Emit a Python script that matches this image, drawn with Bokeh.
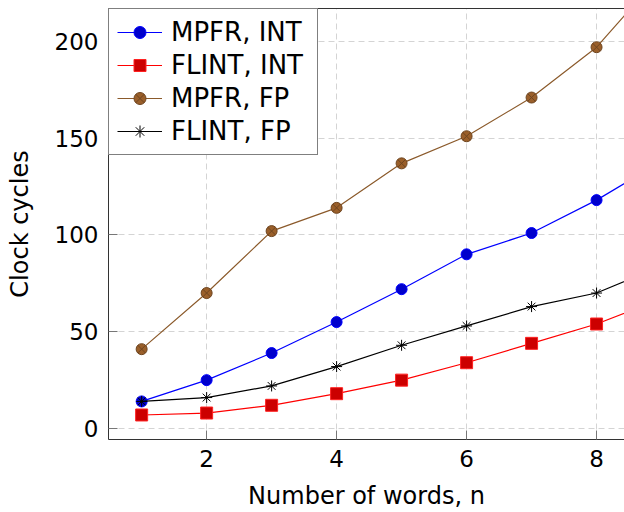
from bokeh.plotting import figure
from bokeh.models import Legend, LegendItem, LinearAxis, FixedTicker, Range1d
from bokeh.embed import file_html
from bokeh.resources import INLINE

words = [1, 2, 3, 4, 5, 6, 7, 8, 9]
mpfr_int = [14, 25, 39, 55, 72, 90, 101, 118, 138]
flint_int = [7, 8, 12, 18, 25, 34, 44, 54, 67]
mpfr_fp = [41, 70, 102, 114, 137, 151, 171, 197, 235]
flint_fp = [14, 16, 22, 32, 43, 53, 63, 70, 84]
x_ticks = [2, 4, 6, 8]
y_ticks = [0, 50, 100, 150, 200]

FONT = "DejaVu Sans"

p = figure(width=624, height=512, output_backend="svg", toolbar_location=None,
           x_range=Range1d(0.49, 8.43), y_range=Range1d(-5.67, 217),
           min_border_left=108, min_border_right=0, min_border_top=8, min_border_bottom=72)
p.outline_line_color = None
p.background_fill_color = "white"
p.border_fill_color = "white"

for g in (p.xgrid, p.ygrid):
    g.grid_line_color = "#d4d4d4"
    g.grid_line_dash = "6 4"
    g.grid_line_width = 1
p.xgrid.ticker = FixedTicker(ticks=x_ticks)
p.ygrid.ticker = FixedTicker(ticks=y_ticks)

for ax in (p.xaxis[0], p.yaxis[0]):
    ax.axis_line_color = "#333333"
    ax.major_tick_in = 9
    ax.major_tick_out = 0
    ax.major_tick_line_color = "#777777"
    ax.minor_tick_line_color = None
    ax.major_label_text_font = FONT
    ax.major_label_text_font_size = "23px"
    ax.major_label_text_color = "black"
    ax.axis_label_text_font = FONT
    ax.axis_label_text_font_size = "24px"
    ax.axis_label_text_font_style = "normal"
    ax.axis_label_text_color = "black"

p.xaxis[0].ticker = FixedTicker(ticks=x_ticks)
p.yaxis[0].ticker = FixedTicker(ticks=y_ticks)
p.xaxis[0].axis_label = "Number of words, n"
p.yaxis[0].axis_label = "Clock cycles"
p.xaxis[0].major_label_standoff = 10
p.xaxis[0].axis_label_standoff = 12
p.yaxis[0].major_label_standoff = 10
p.yaxis[0].axis_label_standoff = 18

# top frame edge (plot is cut off at the right, so no right edge)
top = LinearAxis(ticker=FixedTicker(ticks=[]), major_tick_in=0, major_tick_out=0,
                 axis_line_color="#333333", minor_tick_line_color=None)
p.add_layout(top, "above")

l1 = p.line(words, mpfr_int, line_color="#0000ff", line_width=1.2)
s1 = p.scatter(words, mpfr_int, marker="circle", size=11, fill_color="#0000cc", line_color="#0000ff")
l2 = p.line(words, flint_int, line_color="#ff0000", line_width=1.2)
s2 = p.scatter(words, flint_int, marker="square", size=12, fill_color="#cc0000", line_color="#ff2222")
l3 = p.line(words, mpfr_fp, line_color="#8b5a2b", line_width=1.2)
s3 = p.scatter(words, mpfr_fp, marker="circle_x", size=11, fill_color="#9a5f2a", line_color="#6e4520")
l4 = p.line(words, flint_fp, line_color="black", line_width=1.2)
s4 = p.scatter(words, flint_fp, marker="asterisk", size=11, line_color="black", line_width=1)

legend = Legend(items=[
    LegendItem(label="MPFR, INT", renderers=[l1, s1]),
    LegendItem(label="FLINT, INT", renderers=[l2, s2]),
    LegendItem(label="MPFR, FP", renderers=[l3, s3]),
    LegendItem(label="FLINT, FP", renderers=[l4, s4]),
], location="top_left", margin=0, padding=8, spacing=3,
   glyph_width=45, glyph_height=30, label_height=30, label_width=138, label_standoff=9,
   label_text_font=FONT, label_text_font_size="26px", label_text_color="black",
   border_line_color="black", border_line_width=1,
   background_fill_color="white", background_fill_alpha=1.0)
p.add_layout(legend, "center")

open("out.html", "w").write(file_html(p, INLINE))
